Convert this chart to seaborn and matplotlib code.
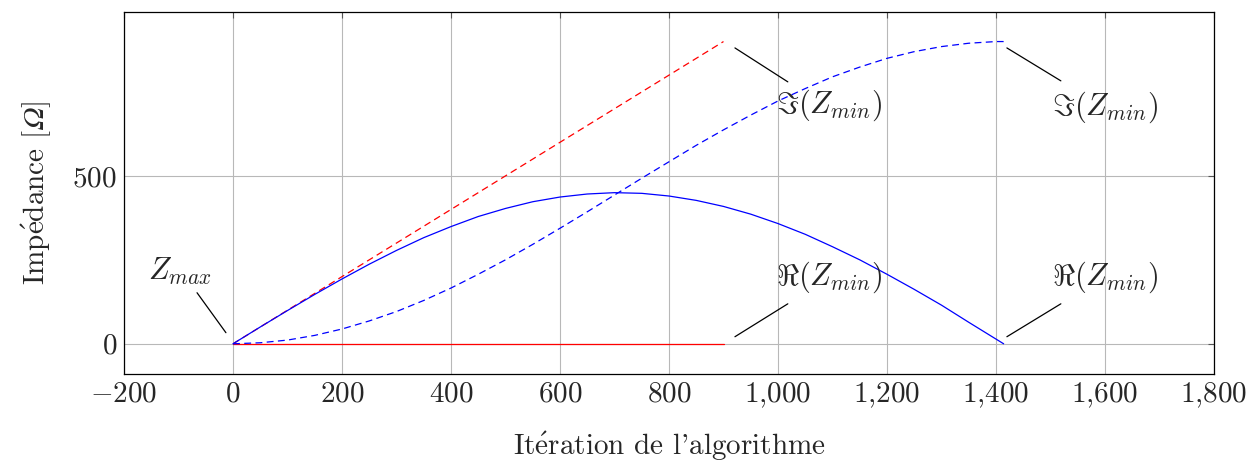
import matplotlib
matplotlib.use("Agg")
import matplotlib.pyplot as plt
import seaborn as sns
import pandas as pd
from matplotlib.ticker import FixedLocator, FuncFormatter

# ---- data ----
iter_red = [0, 900]
re_red = [0, 0]
im_red = [0, 900]

iter_blue = [0, 50, 100, 150, 200, 250, 300, 350, 400, 450, 500, 550, 600, 650, 700,
             750, 800, 850, 900, 950, 1000, 1050, 1100, 1150, 1200, 1250, 1300, 1350,
             1400, 1414]
re_blue = [0, 50, 99, 147, 193, 237, 278, 316, 349, 379, 403, 423, 437, 446, 450,
           448, 440, 427, 409, 386, 358, 326, 289, 250, 207, 162, 115, 64, 14, 0]
im_blue = [0, 3, 11, 25, 44, 68, 96, 129, 166, 207, 250, 296, 344, 393, 443,
           493, 542, 591, 637, 681, 723, 760, 795, 824, 850, 870, 885, 895, 900, 900]

x_ticks = [-200, 0, 200, 400, 600, 800, 1000, 1200, 1400, 1600, 1800]
y_ticks = [0, 500]

sns.set_style("white")
plt.rcParams["font.family"] = ["cmr10", "DejaVu Serif"]
plt.rcParams["mathtext.fontset"] = "cm"
plt.rcParams["axes.unicode_minus"] = False

fig = plt.figure(figsize=(12.55, 4.62), dpi=100)
ax = fig.add_axes([124 / 1255, 1 - 374 / 462, (1214 - 124) / 1255, (374 - 12) / 462])

red = pd.DataFrame({"it": iter_red, "re": re_red, "im": im_red})
blue = pd.DataFrame({"it": iter_blue, "re": re_blue, "im": im_blue})

dash = (0, (5.5, 3.5))
lw = 0.9
sns.lineplot(data=red, x="it", y="re", color="#ff0000", lw=lw, ax=ax, zorder=3)
sns.lineplot(data=red, x="it", y="im", color="#ff0000", lw=lw, ls=dash, ax=ax, zorder=3)
sns.lineplot(data=blue, x="it", y="re", color="#0000ff", lw=lw, ax=ax, zorder=3)
sns.lineplot(data=blue, x="it", y="im", color="#0000ff", lw=lw, ls=dash, ax=ax, zorder=3)

ax.set_xlim(-200, 1800)
ax.set_ylim(-90, 988)
ax.xaxis.set_major_locator(FixedLocator(x_ticks))
ax.yaxis.set_major_locator(FixedLocator(y_ticks))


def fmt(v, pos):
    v = int(round(v))
    s = f"{abs(v):,}".replace(",", "{,}")
    return f"${'-' if v < 0 else ''}{s}$"


ax.xaxis.set_major_formatter(FuncFormatter(fmt))
ax.yaxis.set_major_formatter(FuncFormatter(fmt))
ax.grid(True, color="#b8b8b8", lw=0.8)
ax.set_axisbelow(True)
ax.tick_params(direction="in", length=4, width=0.8, color="#555555",
               top=True, right=True, labelsize=21, pad=5)
for sp in ax.spines.values():
    sp.set_color("black")
    sp.set_linewidth(0.9)

ax.set_xlabel(r"It$\mathrm{\acute{e}}$ration de l'algorithme", fontsize=21, labelpad=14)
ax.set_ylabel("Imp$\\mathrm{\\acute{e}}$dance [$\U0001D6FA$]", fontsize=21, labelpad=14)

# annotations
ann_fs = 22
ax.plot([-66, -13], [152, 33], color="black", lw=0.9, zorder=4)
ax.text(-97, 215, r"$Z_{max}$", fontsize=ann_fs, ha="center", va="center")

ax.plot([921, 1018], [881, 780], color="black", lw=0.9, zorder=4)
ax.text(1095, 711, r"$\Im(Z_{min})$", fontsize=ann_fs, ha="center", va="center")
ax.plot([1420, 1519], [881, 783], color="black", lw=0.9, zorder=4)
ax.text(1600, 705, r"$\Im(Z_{min})$", fontsize=ann_fs, ha="center", va="center")

ax.plot([921, 1018], [21, 119], color="black", lw=0.9, zorder=4)
ax.text(1095, 199, r"$\Re(Z_{min})$", fontsize=ann_fs, ha="center", va="center")
ax.plot([1420, 1519], [21, 119], color="black", lw=0.9, zorder=4)
ax.text(1600, 199, r"$\Re(Z_{min})$", fontsize=ann_fs, ha="center", va="center")

fig.savefig("out.png", dpi=100)
